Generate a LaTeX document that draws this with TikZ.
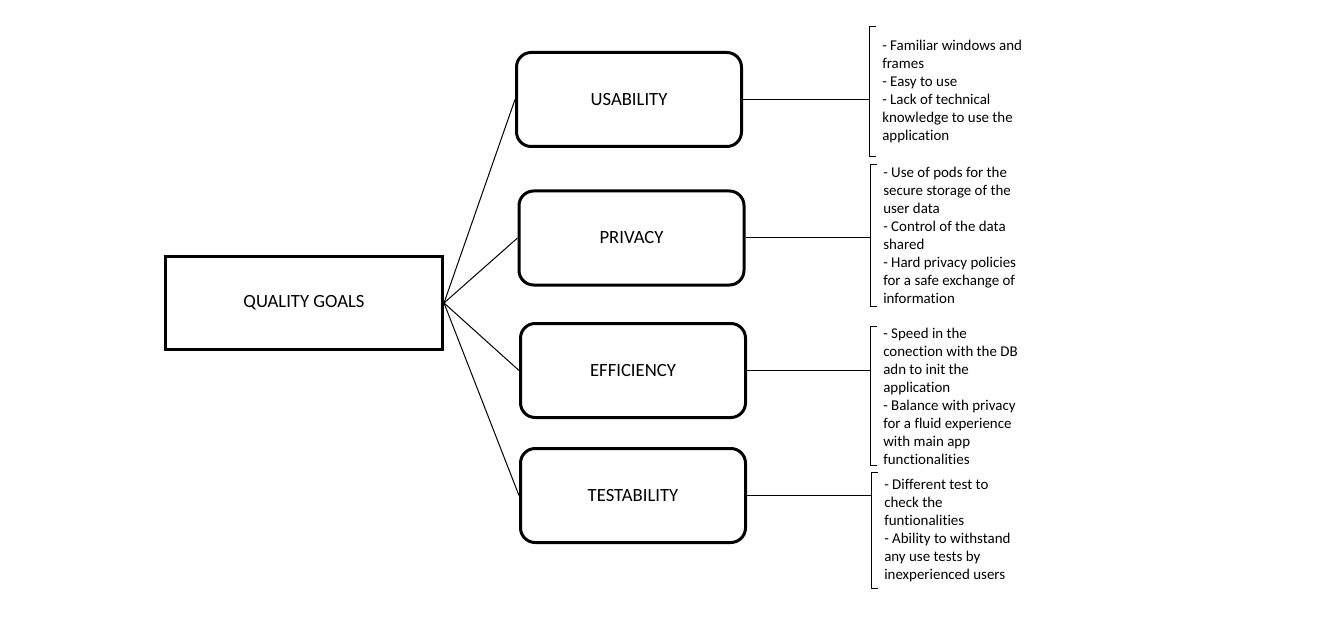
\documentclass[tikz,border=0pt]{standalone}
\usepackage{fontspec}
\setmainfont{Carlito}[Ligatures=NoCommon]
\begin{document}
\begin{tikzpicture}[x=0.75pt,y=-0.75pt,
  g/.style={rectangle,draw,line width=2.25pt,minimum width=207.75pt,minimum height=69.75pt,font=\fontsize{14}{17}\selectfont},
  q/.style={rectangle,draw,rounded corners=11pt,line width=2.25pt,minimum width=168.75pt,minimum height=70.5pt,font=\fontsize{14}{17}\selectfont},
  n/.style={rectangle,align=left,anchor=west,inner xsep=0pt,inner ysep=0pt,minimum height=#1,font=\fontsize{11.2}{13.5}\selectfont},
  l/.style={line width=0.75pt}]
  \useasboundingbox (0,0) rectangle (1343,631);
  % goals
  \node[g] (qg) at (304,303) {QUALITY GOALS};
  \node[q] (us) at (629,99.5) {USABILITY};
  \node[q] (pr) at (631.5,238) {PRIVACY};
  \node[q] (ef) at (633,370.5) {EFFICIENCY};
  \node[q] (te) at (633,495.5) {TESTABILITY};
  % notes
  \node[n=96.75pt] (un) at (882,91.5) {- Familiar windows and\\frames\\- Easy to use\\- Lack of technical\\knowledge to use the\\application};
  \node[n=105.75pt] (pn) at (883,235.5) {- Use of pods for the\\secure storage of the\\user data\\- Control of the data\\shared\\- Hard privacy policies\\for a safe exchange of\\information};
  \node[n=103.5pt] (en) at (883,396) {- Speed in the\\conection with the DB\\adn to init the\\application\\- Balance with privacy\\for a fluid experience\\with main app\\functionalities};
  \node[n=86.25pt] (tn) at (884,530.5) {- Different test to\\check the\\funtionalities\\- Ability to withstand\\any use tests by\\inexperienced users};
  % brackets
  \foreach \b in {un,pn,en,tn} {
    \coordinate (\b b) at ([xshift=-9.75pt]\b.west);
    \draw[l] ([xshift=-4.5pt]\b.north west) -- ([xshift=-9.75pt]\b.north west)
      -- ([xshift=-9.75pt]\b.south west) -- ([xshift=-4.5pt]\b.south west);
  }
  % connectors
  \foreach \b in {us,pr,ef,te}
    \draw[l] (qg.east) -- (\b.west);
  \foreach \b/\c in {us/un,pr/pn,ef/en,te/tn}
    \draw[l] (\b.east) -- (\b.east -| \c b);
\end{tikzpicture}
\end{document}
